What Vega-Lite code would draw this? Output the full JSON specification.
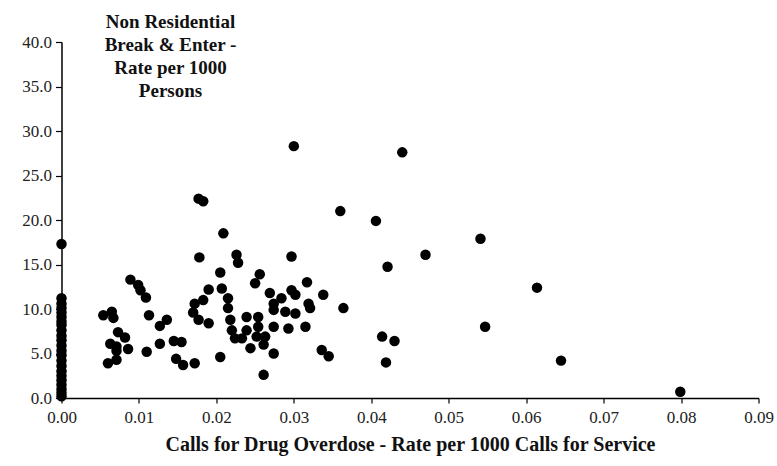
{
  "$schema": "https://vega.github.io/schema/vega-lite/v6.json",
  "autosize": "none",
  "width": 697,
  "height": 356,
  "padding": {"left": 61.5, "top": 42, "right": 18.5, "bottom": 68},
  "background": "white",
  "config": {"view": {"stroke": null}},
  "data": {"values": [
    {"x": 0, "y": 0.2}, {"x": 0, "y": 0.6}, {"x": 0, "y": 1.0}, {"x": 0, "y": 1.5}, {"x": 0, "y": 2.0},
    {"x": 0, "y": 2.5}, {"x": 0, "y": 3.0}, {"x": 0, "y": 3.6}, {"x": 0, "y": 4.2}, {"x": 0, "y": 4.8},
    {"x": 0, "y": 5.3}, {"x": 0, "y": 5.9}, {"x": 0, "y": 6.5}, {"x": 0, "y": 7.0}, {"x": 0, "y": 7.6},
    {"x": 0, "y": 8.2}, {"x": 0, "y": 8.6}, {"x": 0, "y": 9.1}, {"x": 0, "y": 9.6}, {"x": 0, "y": 10.1},
    {"x": 0, "y": 10.6}, {"x": 0, "y": 11.2}, {"x": 0, "y": 17.3},
    {"x": 0.0089, "y": 13.3}, {"x": 0.0099, "y": 12.7}, {"x": 0.0102, "y": 12.1}, {"x": 0.0109, "y": 11.3},
    {"x": 0.0054, "y": 9.3}, {"x": 0.0065, "y": 9.7}, {"x": 0.0067, "y": 9.0}, {"x": 0.0113, "y": 9.3},
    {"x": 0.0136, "y": 8.8}, {"x": 0.0127, "y": 8.1}, {"x": 0.0073, "y": 7.4}, {"x": 0.0082, "y": 6.8},
    {"x": 0.0063, "y": 6.1}, {"x": 0.0071, "y": 5.8}, {"x": 0.0086, "y": 5.5}, {"x": 0.0110, "y": 5.2},
    {"x": 0.0127, "y": 6.1}, {"x": 0.0145, "y": 6.4}, {"x": 0.0060, "y": 3.9}, {"x": 0.0071, "y": 4.3},
    {"x": 0.0148, "y": 4.4}, {"x": 0.0071, "y": 5.3},
    {"x": 0.0178, "y": 15.8}, {"x": 0.0226, "y": 16.1}, {"x": 0.0228, "y": 15.2}, {"x": 0.0297, "y": 15.9},
    {"x": 0.0205, "y": 14.1}, {"x": 0.0256, "y": 13.9}, {"x": 0.0250, "y": 12.9}, {"x": 0.0190, "y": 12.2},
    {"x": 0.0207, "y": 12.3}, {"x": 0.0269, "y": 11.8}, {"x": 0.0297, "y": 12.1}, {"x": 0.0172, "y": 10.6},
    {"x": 0.0170, "y": 9.6}, {"x": 0.0183, "y": 11.0}, {"x": 0.0215, "y": 11.2}, {"x": 0.0215, "y": 10.1},
    {"x": 0.0274, "y": 10.6}, {"x": 0.0274, "y": 9.9}, {"x": 0.0289, "y": 9.7}, {"x": 0.0302, "y": 9.5},
    {"x": 0.0177, "y": 8.8}, {"x": 0.0190, "y": 8.4}, {"x": 0.0218, "y": 8.8}, {"x": 0.0239, "y": 9.1},
    {"x": 0.0254, "y": 9.1}, {"x": 0.0220, "y": 7.6}, {"x": 0.0239, "y": 7.6}, {"x": 0.0254, "y": 8.0},
    {"x": 0.0274, "y": 8.0}, {"x": 0.0293, "y": 7.8}, {"x": 0.0224, "y": 6.7}, {"x": 0.0233, "y": 6.7},
    {"x": 0.0252, "y": 6.9}, {"x": 0.0263, "y": 6.9}, {"x": 0.0244, "y": 5.6}, {"x": 0.0261, "y": 6.0},
    {"x": 0.0274, "y": 5.0}, {"x": 0.0205, "y": 4.6}, {"x": 0.0261, "y": 2.6}, {"x": 0.0155, "y": 6.3},
    {"x": 0.0157, "y": 3.7}, {"x": 0.0172, "y": 3.9},
    {"x": 0.0317, "y": 13.0}, {"x": 0.0302, "y": 11.6}, {"x": 0.0284, "y": 11.2}, {"x": 0.0338, "y": 11.6},
    {"x": 0.0319, "y": 10.6}, {"x": 0.0321, "y": 10.1}, {"x": 0.0364, "y": 10.1}, {"x": 0.0315, "y": 8.0},
    {"x": 0.0336, "y": 5.4}, {"x": 0.0345, "y": 4.7},
    {"x": 0.0177, "y": 22.4}, {"x": 0.0183, "y": 22.1}, {"x": 0.0209, "y": 18.5}, {"x": 0.0360, "y": 21.0},
    {"x": 0.0300, "y": 28.3},
    {"x": 0.0440, "y": 27.6}, {"x": 0.0406, "y": 19.9}, {"x": 0.0421, "y": 14.75}, {"x": 0.0470, "y": 16.1},
    {"x": 0.0541, "y": 17.9}, {"x": 0.0614, "y": 12.4}, {"x": 0.0547, "y": 8.0}, {"x": 0.0414, "y": 6.9},
    {"x": 0.0430, "y": 6.4}, {"x": 0.0419, "y": 4.0}, {"x": 0.0645, "y": 4.2}, {"x": 0.0799, "y": 0.7}
  ]},
  "mark": {"type": "circle", "size": 110, "color": "black", "opacity": 1, "clip": false},
  "encoding": {
    "x": {
      "field": "x", "type": "quantitative",
      "scale": {"domain": [0, 0.09], "nice": false, "zero": false},
      "axis": {
        "values": [0, 0.01, 0.02, 0.03, 0.04, 0.05, 0.06, 0.07, 0.08, 0.09],
        "format": ".2f", "grid": false,
        "domainColor": "black", "domainWidth": 1.5, "tickColor": "black", "tickSize": 5, "tickWidth": 1.2,
        "labelFont": "Liberation Serif", "labelFontSize": 17, "labelColor": "#222", "labelPadding": 6,
        "labelOverlap": false, "labelFlush": false,
        "title": "Calls for Drug Overdose - Rate per 1000 Calls for Service",
        "titleFont": "Liberation Serif", "titleFontSize": 20, "titleFontWeight": "bold", "titleColor": "#111",
        "titlePadding": 9
      }
    },
    "y": {
      "field": "y", "type": "quantitative",
      "scale": {"domain": [0, 40], "nice": false, "zero": true},
      "axis": {
        "values": [0, 5, 10, 15, 20, 25, 30, 35, 40],
        "format": ".1f", "grid": false,
        "domainColor": "black", "domainWidth": 1.5, "tickColor": "black", "tickSize": 6, "tickWidth": 1.2,
        "labelFont": "Liberation Serif", "labelFontSize": 17, "labelColor": "#222", "labelPadding": 4,
        "labelOverlap": false, "labelFlush": false,
        "title": ["Non Residential", "Break & Enter -", "Rate per 1000", "Persons"],
        "titleAngle": 0, "titleAlign": "center", "titleBaseline": "top",
        "titleX": 108.5, "titleY": -30, "titleLineHeight": 23.3,
        "titleFont": "Liberation Serif", "titleFontSize": 19, "titleFontWeight": "bold", "titleColor": "#111"
      }
    }
  }
}
